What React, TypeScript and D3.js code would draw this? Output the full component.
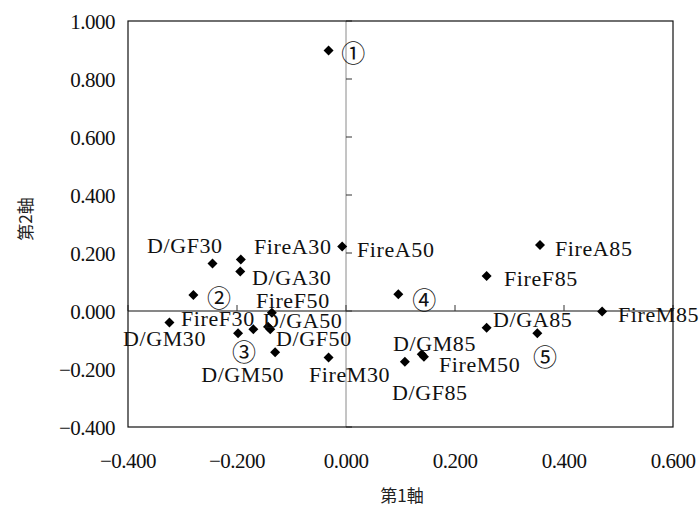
import React from "react";
import * as d3 from "d3";

// ---- data ----
const pointNames = [
  "D/GF30", "FireA30", "D/GA30", "FireF30", "D/GA50", "D/GF50", "FireF50", "D/GM30", "D/GM50",
  "FireA50", "FireM30", "D/GF85", "D/GM85", "FireM50", "FireF85", "D/GA85", "FireA85", "FireM85",
];
const axis1Values = [
  -0.245, -0.193, -0.194, -0.17, -0.143, -0.139, -0.136, -0.324, -0.13,
  -0.007, -0.032, 0.108, 0.139, 0.143, 0.258, 0.258, 0.356, 0.47,
];
const axis2Values = [
  0.164, 0.178, 0.136, -0.063, -0.054, -0.063, -0.006, -0.04, -0.142,
  0.222, -0.16, -0.175, -0.149, -0.158, 0.121, -0.058, 0.228, -0.002,
];
const groupNames = ["①", "②", "③", "④", "⑤"];
const groupAxis1 = [-0.032, -0.28, -0.198, 0.096, 0.351];
const groupAxis2 = [0.898, 0.055, -0.077, 0.058, -0.077];
const xTicks = [-0.4, -0.2, 0.0, 0.2, 0.4, 0.6];
const yTicks = [-0.4, -0.2, 0.0, 0.2, 0.4, 0.6, 0.8, 1.0];
const xTitle = "第1軸";
const yTitle = "第2軸";

// ---- layout (label placement offsets in px, relative to marker) ----
const labelOffsets: [number, number][] = [
  [-65.5, -10.4], [13.2, -5.4], [11.7, 13.4], [-72.4, -3.3], [-5, 1.3], [5.8, 16.7], [-16, -4.7],
  [-46.4, 23.4], [-74, 29.8], [14.8, 10.4], [-19.6, 24.6], [-12.9, 38.2], [-28.8, -3.2],
  [15.1, 15.2], [17.4, 10.1], [6.4, -0.8], [15, 11.1], [15.8, 10.4],
];
const groupOffsets: [number, number][] = [
  [24.7, 1.1], [25.6, 1.6], [5.9, 16.7], [26, 4.1], [7.7, 21.7],
];

const W = 699;
const H = 506;
const L = 128, R = 673, T = 21, B = 427;

const fmt = (v: number) => (v < 0 ? "\u2212" : "") + Math.abs(v).toFixed(3);

export default function App() {
  const x = d3.scaleLinear().domain([-0.4, 0.6]).range([L, R]);
  const y = d3.scaleLinear().domain([-0.4, 1.0]).range([B, T]);
  const diamond = d3.symbol().type(d3.symbolSquare).size(50)() as string;
  const serif = "'Liberation Serif', 'Times New Roman', serif";
  const cjk = "'Noto Sans CJK JP', sans-serif";

  return (
    <svg width={W} height={H} style={{ position: "absolute", left: 0, top: 0, background: "#fff" }}>
      <rect x={0} y={0} width={W} height={H} fill="#fff" />
      {/* zero lines */}
      <line x1={x(0)} x2={x(0)} y1={T} y2={B} stroke="#8a8a8a" strokeWidth={1} />
      <line x1={L} x2={R} y1={y(0)} y2={y(0)} stroke="#111" strokeWidth={1.1} />
      {/* ticks on zero lines */}
      {yTicks.map((t) => (
        <line key={"yt" + t} x1={x(0)} x2={x(0) + 6} y1={y(t)} y2={y(t)} stroke="#333" strokeWidth={1} />
      ))}
      {xTicks.map((t) => (
        <line key={"xt" + t} x1={x(t)} x2={x(t)} y1={y(0)} y2={y(0) - 6} stroke="#333" strokeWidth={1} />
      ))}
      {/* frame */}
      <rect x={L} y={T} width={R - L} height={B - T} fill="none" stroke="#111" strokeWidth={1.2} />
      {/* tick labels */}
      {yTicks.map((t) => (
        <text key={"yl" + t} x={115} y={y(t) + 7.5} textAnchor="end" fontFamily={serif} fontSize={21}
          letterSpacing={-0.5} fill="#111">{fmt(t)}</text>
      ))}
      {xTicks.map((t) => (
        <text key={"xl" + t} x={x(t)} y={467.5} textAnchor="middle" fontFamily={serif} fontSize={21}
          letterSpacing={-0.5} fill="#111">{fmt(t)}</text>
      ))}
      {/* axis titles */}
      <text x={402} y={494} textAnchor="middle" dominantBaseline="central" fontFamily={cjk} fontSize={17} fill="#222">{xTitle}</text>
      <text transform={`translate(24,219) rotate(-90)`} textAnchor="middle" dominantBaseline="central"
        fontFamily={cjk} fontSize={17} fill="#222">{yTitle}</text>
      {/* points */}
      {pointNames.map((n, i) => (
        <path key={"p" + n} d={diamond}
          transform={`translate(${x(axis1Values[i])},${y(axis2Values[i])}) rotate(45)`} fill="#000" />
      ))}
      {groupNames.map((n, i) => (
        <path key={"g" + n} d={diamond}
          transform={`translate(${x(groupAxis1[i])},${y(groupAxis2[i])}) rotate(45)`} fill="#000" />
      ))}
      {/* labels */}
      {pointNames.map((n, i) => (
        <text key={"l" + n} x={x(axis1Values[i]) + labelOffsets[i][0]} y={y(axis2Values[i]) + labelOffsets[i][1]}
          fontFamily={serif} fontSize={22} letterSpacing={0.6} fill="#111">{n}</text>
      ))}
      {groupNames.map((n, i) => (
        <text key={"gl" + n} x={x(groupAxis1[i]) + groupOffsets[i][0]} y={y(groupAxis2[i]) + groupOffsets[i][1]}
          textAnchor="middle" dominantBaseline="central" fontFamily={cjk} fontSize={24} fill="#111">{n}</text>
      ))}
    </svg>
  );
}
